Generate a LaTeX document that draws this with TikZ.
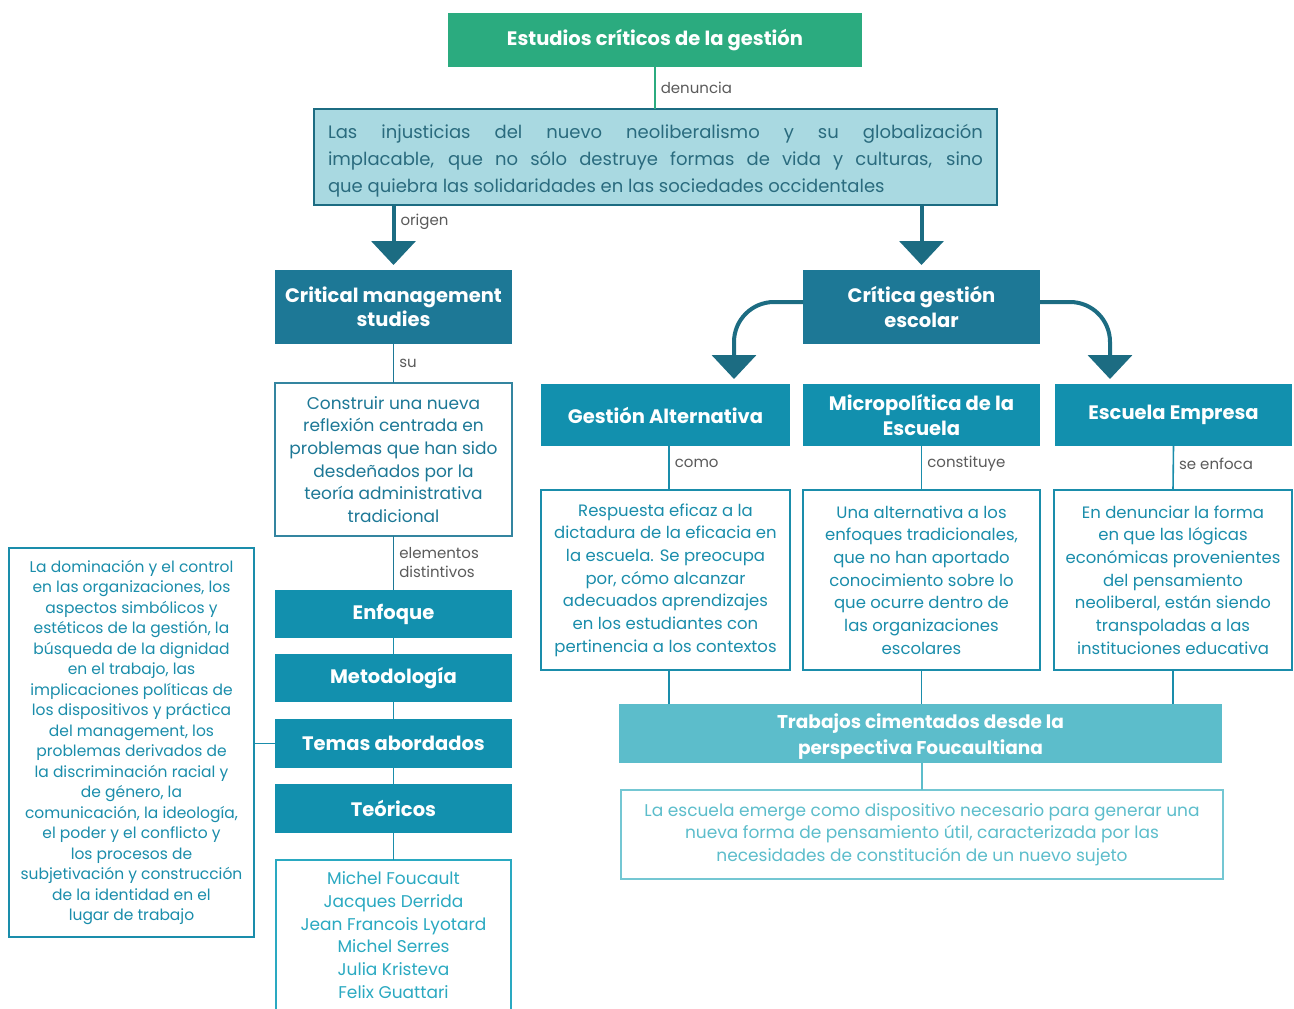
\documentclass[tikz,border=0pt]{standalone}
\usepackage{fontspec}
\setmainfont{Poppins}
\usetikzlibrary{arrows.meta}

\definecolor{titlegreen}{HTML}{2BAB7F}
\definecolor{deepteal}{HTML}{1D7896}
\definecolor{midteal}{HTML}{1290AE}
\definecolor{paleblue}{HTML}{A9D9E1}
\definecolor{softteal}{HTML}{5CBDCB}
\definecolor{darktext}{HTML}{2A6B7E}
\definecolor{bodytext}{HTML}{1A8DAB}
\definecolor{nametext}{HTML}{2AA9C1}
\definecolor{labelgray}{HTML}{5A5A5A}
\definecolor{arrowteal}{HTML}{1C6C82}

\tikzset{
  box/.style={rectangle, inner sep=0pt, outer sep=0pt, align=center},
  headbox/.style={box, fill=midteal, text=white, font=\bfseries\fontsize{19.5}{24.5}\selectfont},
  deepbox/.style={headbox, fill=deepteal},
  textbox/.style={box, draw=bodytext, line width=1.8pt, fill=white, text=bodytext,
    font=\fontsize{16.5}{22.7}\selectfont},
  link/.style={draw=bodytext, line width=1.6pt},
  tag/.style={right=3pt, text=labelgray, font=\fontsize{15}{19}\selectfont, align=left, inner sep=2pt},
  bigarrow/.style={draw=arrowteal, line width=4pt,
    -{Triangle[width=44pt,length=24pt]}},
}

\begin{document}
\begin{tikzpicture}[x=1pt,y=-1pt]
\useasboundingbox (0,0) rectangle (1294,1009);
\clip (0,0) rectangle (1294,1009);

% top of the hierarchy
\node[box, fill=titlegreen, text=white, minimum width=414pt, minimum height=54pt,
  font=\bfseries\fontsize{19.5}{24}\selectfont] (title) at (655,40) {Estudios críticos de la gestión};

\node[box, fill=paleblue, draw=arrowteal, line width=2pt,
  minimum width=683pt, minimum height=96pt] (injust) at (655.5,157) {};
\node[box, text=darktext, text width=655pt, align=justify,
  font=\fontsize{18}{27}\selectfont] (injusttext) at (655.5,161)
  {Las injusticias del nuevo neoliberalismo y su globalización\linebreak
   implacable, que no sólo destruye formas de vida y culturas, sino\linebreak
   que quiebra las solidaridades en las sociedades occidentales};

\draw[line width=1.6pt, draw=titlegreen] (title.south) -- node[tag, pos=0.5] {denuncia} (title.south |- injust.north);

% two main branches
\node[deepbox, minimum width=237pt, minimum height=74pt] (cms) at (393.5,307) {Critical management\\studies};
\node[deepbox, minimum width=237pt, minimum height=74pt] (cge) at (921.5,307) {Crítica gestión\\escolar};

\draw[bigarrow] (injust.south -| cms) -- node[tag, pos=0.28] {origen} ([yshift=5pt]cms.north);
\draw[bigarrow] (injust.south -| cge) -- ([yshift=5pt]cge.north);

% school-management branch
\node[headbox, minimum width=249pt, minimum height=62pt] (galt) at (665.5,415) {Gestión Alternativa};
\node[headbox, minimum width=237pt, minimum height=62pt] (micro) at (921.5,415) {Micropolítica de la\\Escuela};
\node[headbox, minimum width=237pt, minimum height=62pt] (emp) at (1173.5,415) {Escuela Empresa};

\coordinate (gtip) at (734,379);
\coordinate (etip) at (1110,379);
\draw[bigarrow, rounded corners=40pt] ([yshift=5pt]cge.west) -| (gtip);
\draw[bigarrow, rounded corners=40pt] ([yshift=5pt]cge.east) -| (etip);

\node[textbox, minimum width=249pt, minimum height=180pt] (galttxt) at (665.5,580)
  {Respuesta eficaz a la\\dictadura de la eficacia en\\la escuela. Se preocupa\\por, cómo alcanzar\\adecuados aprendizajes\\en los estudiantes con\\pertinencia a los contextos};
\node[textbox, minimum width=237pt, minimum height=180pt] (microtxt) at (921.5,580)
  {Una alternativa a los\\enfoques tradicionales,\\que no han aportado\\conocimiento sobre lo\\que ocurre dentro de\\las organizaciones\\escolares};
\node[textbox, minimum width=238pt, minimum height=180pt] (emptxt) at (1173,580)
  {En denunciar la forma\\en que las lógicas\\económicas provenientes\\del pensamiento\\neoliberal, están siendo\\transpoladas a las\\instituciones educativa};

\draw[link] (galt.south -| 669,0) -- node[tag, pos=0.4] {como} (galttxt.north -| 669,0);
\draw[link] (micro.south) -- node[tag, pos=0.4] {constituye} (microtxt.north);
\draw[link] (emp.south) -- node[tag, pos=0.4] {se enfoca} (emptxt.north);

\node[box, fill=softteal, minimum width=603pt, minimum height=59pt] (trab) at (920.5,733.5) {};
\node[box, text=white, font=\bfseries\fontsize{18.5}{26}\selectfont] (trabtext) at (920.5,736.5)
  {Trabajos cimentados desde la\\perspectiva Foucaultiana};

\draw[link] (galttxt.south -| 669,0) -- (trab.north -| 669,0);
\draw[link] (microtxt.south) -- (trab.north -| microtxt.south);
\draw[link] (emptxt.south) -- (trab.north -| emptxt.south);

\node[textbox, draw=softteal!85, text=softteal, minimum width=602pt, minimum height=89pt,
  font=\fontsize{17}{22.5}\selectfont] (escuela) at (922,834.5)
  {La escuela emerge como dispositivo necesario para generar una\\nueva forma de pensamiento útil, caracterizada por las\\necesidades de constitución de un nuevo sujeto};
\draw[link, draw=softteal] (trab.south -| escuela.north) -- (escuela.north);

% critical management studies branch
\node[textbox, text=deepteal, draw=deepteal!90, minimum width=237pt, minimum height=153pt,
  font=\fontsize{17}{22.6}\selectfont] (constr) at (393.5,459.5)
  {Construir una nueva\\reflexión centrada en\\problemas que han sido\\desdeñados por la\\teoría administrativa\\tradicional};
\draw[link, draw=deepteal] (cms.south) -- node[tag, pos=0.5] {su} (constr.north);

\node[headbox, minimum width=237pt, minimum height=48pt] (enf) at (393.5,614) {Enfoque};
\node[headbox, minimum width=237pt, minimum height=48pt] (met) at (393.5,678) {Metodología};
\node[headbox, minimum width=237pt, minimum height=49pt] (tem) at (393.5,743.5) {Temas abordados};
\node[headbox, minimum width=237pt, minimum height=49pt] (teo) at (393.5,808.5) {Teóricos};

\draw[link, draw=deepteal] (constr.south) -- node[tag, pos=0.5] {elementos\\distintivos} (enf.north);
\draw[link] (enf.south) -- (met.north);
\draw[link] (met.south) -- (tem.north);
\draw[link] (tem.south) -- (teo.north);

\node[textbox, draw=nametext, text=nametext, minimum width=235pt, minimum height=150pt,
  font=\fontsize{17}{22.8}\selectfont] (names) at (393.5,935)
  {Michel Foucault\\Jacques Derrida\\Jean Francois Lyotard\\Michel Serres\\Julia Kristeva\\Felix Guattari};
\draw[link] (teo.south) -- (names.north);

\node[textbox, minimum width=245pt, minimum height=389pt,
  font=\fontsize{15.5}{20.5}\selectfont] (temas) at (131.5,742.5)
  {La dominación y el control\\en las organizaciones, los\\aspectos simbólicos y\\estéticos de la gestión, la\\búsqueda de la dignidad\\en el trabajo, las\\implicaciones políticas de\\los dispositivos y práctica\\del management, los\\problemas derivados de\\la discriminación racial y\\de género, la\\comunicación, la ideología,\\el poder y el conflicto y\\los procesos de\\subjetivación y construcción\\de la identidad en el\\lugar de trabajo};
\draw[link] (temas.east |- tem.west) -- (tem.west);
\end{tikzpicture}
\end{document}
